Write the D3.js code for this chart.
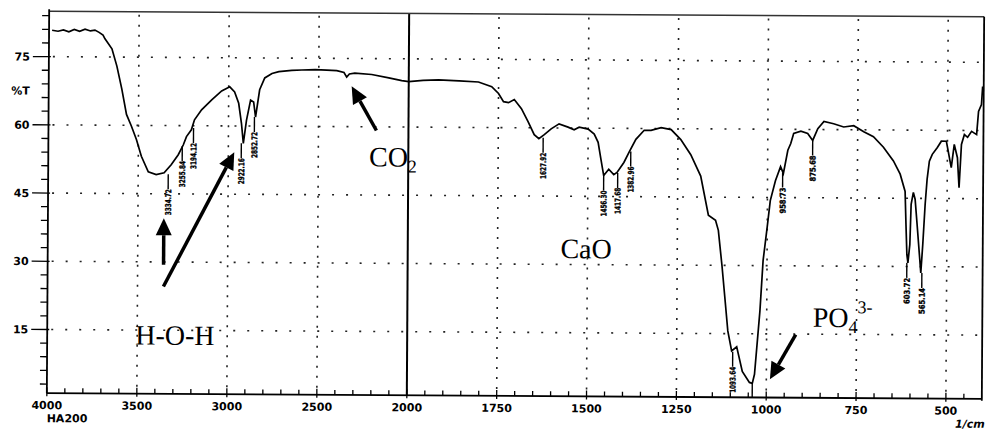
<!DOCTYPE html>
<html>
<head>
<meta charset="utf-8">
<script src="https://cdn.jsdelivr.net/npm/d3@7/dist/d3.min.js"></script>
<style>
  html, body { margin: 0; padding: 0; background: #fff; }
  svg { display: block; }
  .tick-label { font-family: 'DejaVu Sans', sans-serif; font-weight: bold; font-size: 11px; fill: #000; }
  .peak-label { font-family: 'DejaVu Sans Condensed', 'DejaVu Sans', sans-serif; font-weight: bold; font-size: 8px; fill: #000; stroke: #000; stroke-width: 0.35px; }
  .note { font-family: 'Liberation Serif', 'Times New Roman', serif; fill: #000; }
</style>
</head>
<body>
<svg></svg>
<script>
let width = 987
let height = 431

// spectrum (wavenumber in 1/cm, %T)
let wavenumber = [
    3983, 3950, 3920, 3890, 3860, 3830, 3800, 3770, 3745, 3722, 3700, 3689, 3650, 3622, 3594,
    3567, 3539, 3511, 3483, 3444, 3400, 3356, 3317, 3278, 3250, 3233, 3206, 3189, 3150, 3094,
    3039, 2994, 2967, 2944, 2928, 2917, 2900, 2878, 2861, 2850, 2828, 2800, 2760, 2722, 2650,
    2594, 2520, 2456, 2400, 2360, 2345, 2330, 2300, 2206, 2111, 2039, 2000, 1960, 1917, 1860,
    1806, 1769, 1750, 1736, 1722, 1706, 1686, 1667, 1650, 1637, 1622, 1603, 1581, 1556, 1539,
    1525, 1500, 1483, 1472, 1464, 1456, 1442, 1428, 1419, 1400, 1386, 1367, 1344, 1325, 1297,
    1269, 1242, 1214, 1186, 1164, 1144, 1136, 1125, 1117, 1108, 1097, 1083, 1067, 1047, 1039,
    1033, 1019, 1011, 1000, 992, 978, 964, 956, 944, 936, 928, 908, 889, 875, 861,
    844, 817, 789, 761, 733, 706, 678, 650, 631, 617, 614, 611, 608, 603, 600,
    594, 589, 583, 575, 572, 567, 561, 556, 550, 542, 528, 517, 503, 489, 481,
    472, 467, 461, 453, 444, 433, 419, 414, 406, 403
]
let transmittance = [
    80.8, 80.6, 80.9, 80.5, 81.0, 80.6, 81.1, 80.7, 80.9, 80.4, 79.8, 79.0, 76.8, 73.0, 68.0,
    62.4, 59.8, 56.9, 53.2, 49.8, 49.2, 49.6, 51.4, 53.6, 55.8, 57.6, 59.1, 61.3, 63.5, 65.7,
    67.7, 68.6, 67.5, 65.0, 60.6, 56.2, 61.3, 65.7, 65.3, 62.0, 68.0, 70.6, 71.6, 72.0, 72.3,
    72.4, 72.5, 72.4, 72.3, 71.9, 70.9, 71.6, 71.8, 71.5, 70.8, 70.2, 70.0, 70.3, 70.4, 70.2,
    70.0, 69.0, 67.5, 65.7, 65.5, 66.2, 64.2, 61.3, 58.5, 57.6, 58.5, 59.8, 60.9, 60.2, 59.6,
    60.2, 59.8, 58.7, 56.9, 53.2, 49.6, 51.0, 49.8, 50.3, 52.5, 54.7, 57.6, 59.6, 59.6, 60.2,
    59.8, 57.6, 54.3, 49.6, 41.0, 39.9, 37.7, 29.7, 23.1, 15.6, 11.2, 12.1, 6.7, 4.3, 4.1,
    6.1, 20.0, 31.1, 38.6, 44.3, 48.7, 51.8, 50.3, 55.4, 56.9, 59.1, 59.6, 59.1, 57.6, 60.2,
    61.8, 61.3, 60.6, 60.9, 59.6, 58.5, 56.2, 53.2, 50.3, 46.5, 39.2, 32.6, 30.8, 34.8, 43.7,
    46.3, 44.8, 39.2, 31.5, 28.6, 34.8, 43.7, 49.2, 53.2, 54.7, 56.2, 57.6, 57.6, 51.8, 56.9,
    54.0, 47.4, 56.9, 59.1, 58.5, 59.8, 59.1, 64.2, 65.7, 69.7
]

// peak picks printed on the chart
let peakText = ['3334.72', '3255.84', '3194.12', '2922.16', '2852.72', '1627.92', '1456.30',
    '1417.68', '1382.96', '1093.64', '958.73', '875.68', '603.72', '565.14']
let peakWn = [3333, 3256, 3194, 2928, 2856, 1625, 1456, 1417, 1381, 1094, 958, 875, 611, 569]
let peakT = [49.3, 55.5, 59.5, 56.2, 62.0, 57.8, 49.6, 50.2, 54.9, 11.0, 50.5, 57.6, 30.8, 28.6]
let dropWn = 1039
let dropT = 4.1

let xMajor = [4000, 3500, 3000, 2500, 2000, 1750, 1500, 1250, 1000, 750, 500]
let xLabels = ['4000', '3500', '3000', '2500', '2000', '1750', '1500', '1250', '1000', '750', '500']
let yMajor = [75, 60, 45, 30, 15]
let yLabels = ['75', '60', '45', '30', '15']
let gridX = [3500, 3000, 2500, 1750, 1500, 1250, 1000, 750, 500]

// annotations, placed in data units
let notes = [
    {text: 'H-O-H', wn: 3511, t: 11.8},
    {text: 'CO', sub: '2', wn: 2218, t: 51.3},
    {text: 'CaO', wn: 1575, t: 31.4},
    {text: 'PO', sub: '4', sup: '3-', wn: 872, t: 16.6}
]
let arrows = [
    {from: [3356, 29.4], to: [3356, 39.6]},
    {from: [3356, 24.6], to: [2967, 54.2]},
    {from: [2178, 59.2], to: [2317, 68.9]},
    {from: [919, 14.9], to: [990, 5.0]}
]

let svg = d3.select('svg')
    .attr('width', width)
    .attr('height', height)

// the scan is a little tilted
let g = svg.append('g').attr('transform', 'rotate(0.35, 515, 205)')

let x = d3.scaleLinear()
    .domain([4000, 2000, 400])
    .range([48, 408, 983])
let y = d3.scaleLinear()
    .domain([1, 85])
    .range([396, 14])

let xLeft = x(4000), xRight = x(400), yTop = y(85), yBottom = y(1)

// dotted grid
g.append('g').selectAll('line')
    .data(gridX).enter()
    .append('line')
    .attr('x1', d => x(d)).attr('x2', d => x(d))
    .attr('y1', yTop + 3).attr('y2', yBottom - 4)
    .attr('stroke', '#222').attr('stroke-width', 1.6)
    .attr('stroke-dasharray', '2,8')
g.append('g').selectAll('line')
    .data(yMajor).enter()
    .append('line')
    .attr('x1', xLeft + 4).attr('x2', xRight - 4)
    .attr('y1', d => y(d)).attr('y2', d => y(d))
    .attr('stroke', '#222').attr('stroke-width', 1.6)
    .attr('stroke-dasharray', '2,12')

// solid marker at 2000
g.append('line')
    .attr('x1', x(2000)).attr('x2', x(2000))
    .attr('y1', yTop).attr('y2', yBottom)
    .attr('stroke', '#000').attr('stroke-width', 2)

// frame
g.append('line').attr('x1', xLeft).attr('x2', xRight).attr('y1', yTop).attr('y2', yTop)
    .attr('stroke', '#333').attr('stroke-width', 1.5)
g.append('line').attr('x1', xRight).attr('x2', xRight).attr('y1', yTop).attr('y2', yBottom + 2)
    .attr('stroke', '#000').attr('stroke-width', 1.8)
g.append('line').attr('x1', xLeft).attr('x2', xLeft).attr('y1', yTop - 2).attr('y2', yBottom)
    .attr('stroke', '#000').attr('stroke-width', 1.8)
g.append('line').attr('x1', xLeft).attr('x2', xRight).attr('y1', yBottom).attr('y2', yBottom)
    .attr('stroke', '#000').attr('stroke-width', 1.8)

// x ticks
let xMinor = d3.range(3900, 2000, -100).concat(d3.range(1950, 400, -50))
    .filter(d => !xMajor.includes(d))
g.append('g').selectAll('line')
    .data(xMinor).enter()
    .append('line')
    .attr('x1', d => x(d)).attr('x2', d => x(d))
    .attr('y1', yBottom).attr('y2', yBottom - 5)
    .attr('stroke', '#000').attr('stroke-width', 1.3)
g.append('g').selectAll('line')
    .data(xMajor).enter()
    .append('line')
    .attr('x1', d => x(d)).attr('x2', d => x(d))
    .attr('y1', yBottom + 3).attr('y2', yBottom - 6)
    .attr('stroke', '#000').attr('stroke-width', 1.3)
g.append('g').selectAll('text')
    .data(xMajor).enter()
    .append('text')
    .attr('class', 'tick-label')
    .attr('x', d => x(d))
    .attr('y', yBottom + 16)
    .attr('text-anchor', 'middle')
    .text((d, i) => xLabels[i])
g.append('text').attr('class', 'tick-label')
    .attr('x', xLeft).attr('y', yBottom + 29)
    .text('HA200')
g.append('text').attr('class', 'tick-label')
    .attr('x', xRight + 3).attr('y', yBottom + 29)
    .attr('text-anchor', 'end')
    .style('font-style', 'italic')
    .text('1/cm')

// y ticks
let yMinor = d3.range(3, 85, 3).filter(d => !yMajor.includes(d))
g.append('g').selectAll('line')
    .data(yMinor).enter()
    .append('line')
    .attr('x1', xLeft).attr('x2', xLeft - 7)
    .attr('y1', d => y(d)).attr('y2', d => y(d))
    .attr('stroke', '#000').attr('stroke-width', 1.3)
g.append('g').selectAll('line')
    .data(yMajor).enter()
    .append('line')
    .attr('x1', xLeft + 2).attr('x2', xLeft - 16)
    .attr('y1', d => y(d)).attr('y2', d => y(d))
    .attr('stroke', '#000').attr('stroke-width', 1.3)
g.append('g').selectAll('text')
    .data(yMajor).enter()
    .append('text')
    .attr('class', 'tick-label')
    .attr('x', xLeft - 19)
    .attr('y', d => y(d) + 4)
    .attr('text-anchor', 'end')
    .text((d, i) => yLabels[i])
g.append('text').attr('class', 'tick-label')
    .attr('x', xLeft - 19).attr('y', y(67.5) + 4)
    .attr('text-anchor', 'end')
    .text('%T')

// spectrum
let points = wavenumber.map((w, i) => [w, transmittance[i]])
let line = d3.line()
    .x(d => x(d[0]))
    .y(d => y(d[1]))
g.append('path')
    .datum(points)
    .attr('fill', 'none')
    .attr('stroke', '#000')
    .attr('stroke-width', 1.7)
    .attr('stroke-linejoin', 'miter')
    .attr('d', line)

// peak picks
let gap = 15
let peaks = g.append('g').selectAll('g')
    .data(peakWn).enter()
    .append('g')
peaks.append('line')
    .attr('x1', d => x(d)).attr('x2', d => x(d))
    .attr('y1', (d, i) => y(peakT[i]))
    .attr('y2', (d, i) => y(peakT[i]) + gap)
    .attr('stroke', '#000').attr('stroke-width', 1.4)
peaks.append('text')
    .attr('class', 'peak-label')
    .attr('transform', (d, i) => `translate(${x(d) + 3},${y(peakT[i]) + gap}) rotate(-90)`)
    .attr('text-anchor', 'end')
    .attr('textLength', 26)
    .attr('lengthAdjust', 'spacingAndGlyphs')
    .text((d, i) => peakText[i])
g.append('line')
    .attr('x1', x(dropWn)).attr('x2', x(dropWn))
    .attr('y1', y(dropT)).attr('y2', yBottom)
    .attr('stroke', '#000').attr('stroke-width', 1.4)

// annotation text
notes.forEach(n => {
    let t = g.append('text')
        .attr('class', 'note')
        .attr('x', x(n.wn))
        .attr('y', y(n.t))
        .style('font-size', '28px')
        .text(n.text)
    if (n.sub) {
        t.append('tspan').attr('dy', 6).style('font-size', '18px').text(n.sub)
    }
    if (n.sup) {
        t.append('tspan').attr('dy', -20).style('font-size', '18px').text(n.sup)
    }
})

// arrows
arrows.forEach(a => {
    let x1 = x(a.from[0]), y1 = y(a.from[1])
    let x2 = x(a.to[0]), y2 = y(a.to[1])
    let ang = Math.atan2(y2 - y1, x2 - x1)
    let len = 17, half = 8
    let bx = x2 - len * Math.cos(ang), by = y2 - len * Math.sin(ang)
    g.append('line')
        .attr('x1', x1).attr('y1', y1)
        .attr('x2', bx).attr('y2', by)
        .attr('stroke', '#000').attr('stroke-width', 3.5)
    g.append('path')
        .attr('d', d3.line()([
            [x2, y2],
            [bx + half * Math.sin(ang), by - half * Math.cos(ang)],
            [bx - half * Math.sin(ang), by + half * Math.cos(ang)]
        ]) + 'Z')
        .attr('fill', '#000')
})
</script>
</body>
</html>
